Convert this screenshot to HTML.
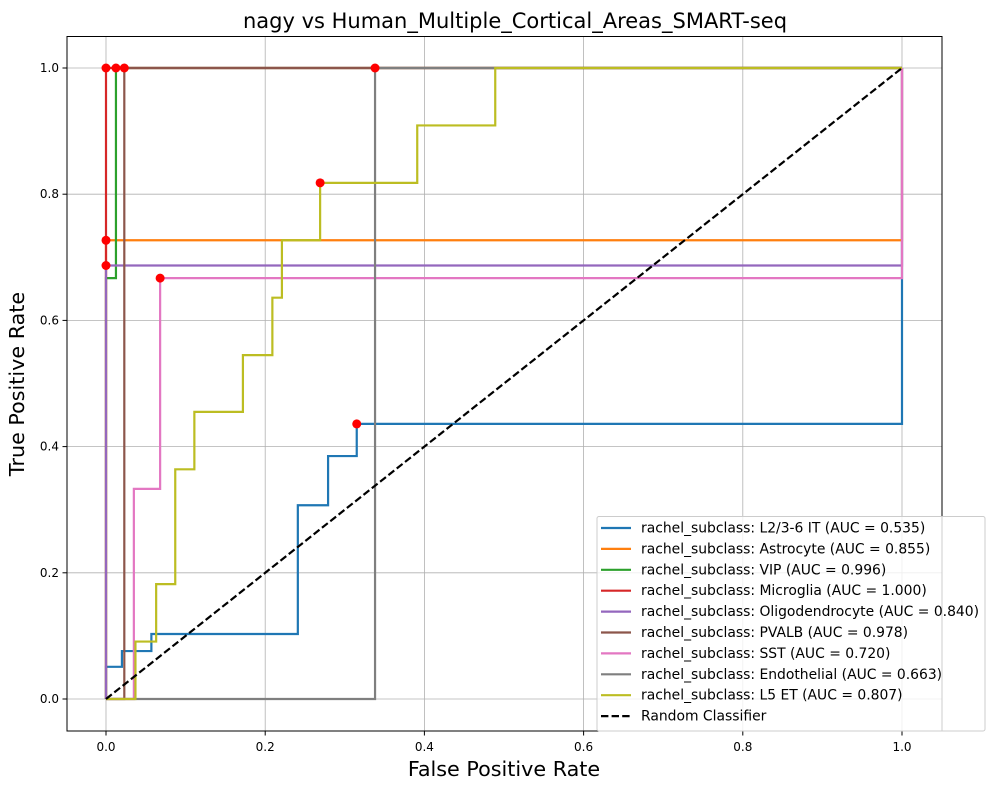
<!DOCTYPE html>
<html><head><meta charset="utf-8"><style>
body{margin:0;background:#fff;}
svg text{font-family:"DejaVu Sans","Liberation Sans",sans-serif;}
</style></head><body>
<svg id="chart" width="994" height="790" xmlns="http://www.w3.org/2000/svg">
<text x="515" y="28" font-size="21" text-anchor="middle">nagy vs Human_Multiple_Cortical_Areas_SMART-seq</text>
<g id="grid"></g>
<g id="series"></g>
<g id="dots"></g>
<rect x="67" y="36.5" width="875" height="694.5" fill="none" stroke="#000" stroke-width="1"/>
<g id="ticks"></g>
<text x="504" y="776" font-size="20.7" text-anchor="middle">False Positive Rate</text>
<text transform="translate(24,384) rotate(-90)" font-size="20.7" text-anchor="middle">True Positive Rate</text>
<g id="legend"></g>
</svg>
<script>
const NS="http://www.w3.org/2000/svg";
const seriesNames=["L2/3-6 IT","Astrocyte","VIP","Microglia","Oligodendrocyte","PVALB","SST","Endothelial","L5 ET"];
const aucValues=["0.535","0.855","0.996","1.000","0.840","0.978","0.720","0.663","0.807"];
const colors=["#1f77b4","#ff7f0e","#2ca02c","#d62728","#9467bd","#8c564b","#e377c2","#7f7f7f","#bcbd22"];
const fprL23=[0,0,0.02,0.02,0.057,0.057,0.241,0.241,0.279,0.279,0.315,0.315,1,1];
const tprL23=[0,0.051,0.051,0.076,0.076,0.103,0.103,0.307,0.307,0.385,0.385,0.436,0.436,1];
const fprAstro=[0,0,1,1];const tprAstro=[0,0.727,0.727,1];
const fprVIP=[0,0,0.0125,0.0125,1];const tprVIP=[0,0.667,0.667,1,1];
const fprMicro=[0,0,1];const tprMicro=[0,1,1];
const fprOligo=[0,0,1,1];const tprOligo=[0,0.687,0.687,1];
const fprPV=[0,0.023,0.023,1];const tprPV=[0,0,1,1];
const fprSST=[0,0.035,0.035,0.068,0.068,1,1];const tprSST=[0,0,0.333,0.333,0.667,0.667,1];
const fprEndo=[0,0.338,0.338,1];const tprEndo=[0,0,1,1];
const fprL5=[0,0.037,0.037,0.063,0.063,0.087,0.087,0.111,0.111,0.172,0.172,0.209,0.209,0.221,0.221,0.269,0.269,0.391,0.391,0.489,0.489,1];
const tprL5=[0,0,0.091,0.091,0.182,0.182,0.364,0.364,0.455,0.455,0.545,0.545,0.636,0.636,0.727,0.727,0.818,0.818,0.909,0.909,1,1];
const dotX=[0,0.0125,0.023,0.338,0,0,0.068,0.269,0.315];
const dotY=[1,1,1,1,0.727,0.687,0.667,0.818,0.436];
const tickValues=[0,0.2,0.4,0.6,0.8,1.0];
const tickLabels=["0.0","0.2","0.4","0.6","0.8","1.0"];
const allFpr=[fprL23,fprAstro,fprVIP,fprMicro,fprOligo,fprPV,fprSST,fprEndo,fprL5];
const allTpr=[tprL23,tprAstro,tprVIP,tprMicro,tprOligo,tprPV,tprSST,tprEndo,tprL5];
const sx=v=>106+796*v, sy=v=>699-631*v;
function mk(t,a,p){const e=document.createElementNS(NS,t);for(const k in a)e.setAttribute(k,a[k]);p.appendChild(e);return e;}
const grid=document.getElementById('grid'),ticks=document.getElementById('ticks');
tickValues.forEach((v,i)=>{
 let g=mk('line',{x1:sx(v),x2:sx(v),y1:36.5,y2:731,stroke:'#b0b0b0','stroke-width':0.8},grid);
 
 g=mk('line',{x1:67,x2:942,y1:sy(v),y2:sy(v),stroke:'#b0b0b0','stroke-width':0.8},grid);
 
 mk('line',{x1:sx(v),x2:sx(v),y1:731,y2:735.5,stroke:'#000'},ticks);
 mk('line',{x1:62.5,x2:67,y1:sy(v),y2:sy(v),stroke:'#000'},ticks);
 let t=mk('text',{x:sx(v),y:751,'font-size':12,'text-anchor':'middle'},ticks);t.textContent=tickLabels[i];
 
 t=mk('text',{x:59,y:sy(v)+4,'font-size':12,'text-anchor':'end'},ticks);t.textContent=tickLabels[i];
 
});
const sg=document.getElementById('series');
allFpr.forEach((f,i)=>{
 const pts=f.map((x,j)=>sx(x)+','+sy(allTpr[i][j])).join(' ');
 const p=mk('polyline',{points:pts,fill:'none',stroke:colors[i],'stroke-width':2.2},sg);
 
 
});
const d=mk('line',{x1:sx(0),y1:sy(0),x2:sx(1),y2:sy(1),stroke:'#000','stroke-width':2.2,'stroke-dasharray':'7.4,3.2'},sg);

const dg=document.getElementById('dots');
dotX.forEach((x,i)=>{const c=mk('circle',{cx:sx(x),cy:sy(dotY[i]),r:4.5,fill:'#ff0000'},dg);
 });
const lg=document.getElementById('legend');
const bx=mk('rect',{x:597,y:516.5,width:388,height:214.5,fill:'#fff','fill-opacity':0.8,stroke:'#cccccc',rx:2},lg);

const labels=seriesNames.map((n,i)=>'rachel_subclass: '+n+' (AUC = '+aucValues[i]+')').concat(['Random Classifier']);
labels.forEach((l,i)=>{
 const y=528+i*20.9;
 const ln=mk('line',{x1:601,x2:631,y1:y,y2:y,stroke:i<9?colors[i]:'#000','stroke-width':2.2},lg);
 if(i==9)ln.setAttribute('stroke-dasharray','7.4,3.2');
 
 const t=mk('text',{x:641,y:y+4.5,'font-size':13.9},lg);t.textContent=l;
 
});
</script>
</body></html>
